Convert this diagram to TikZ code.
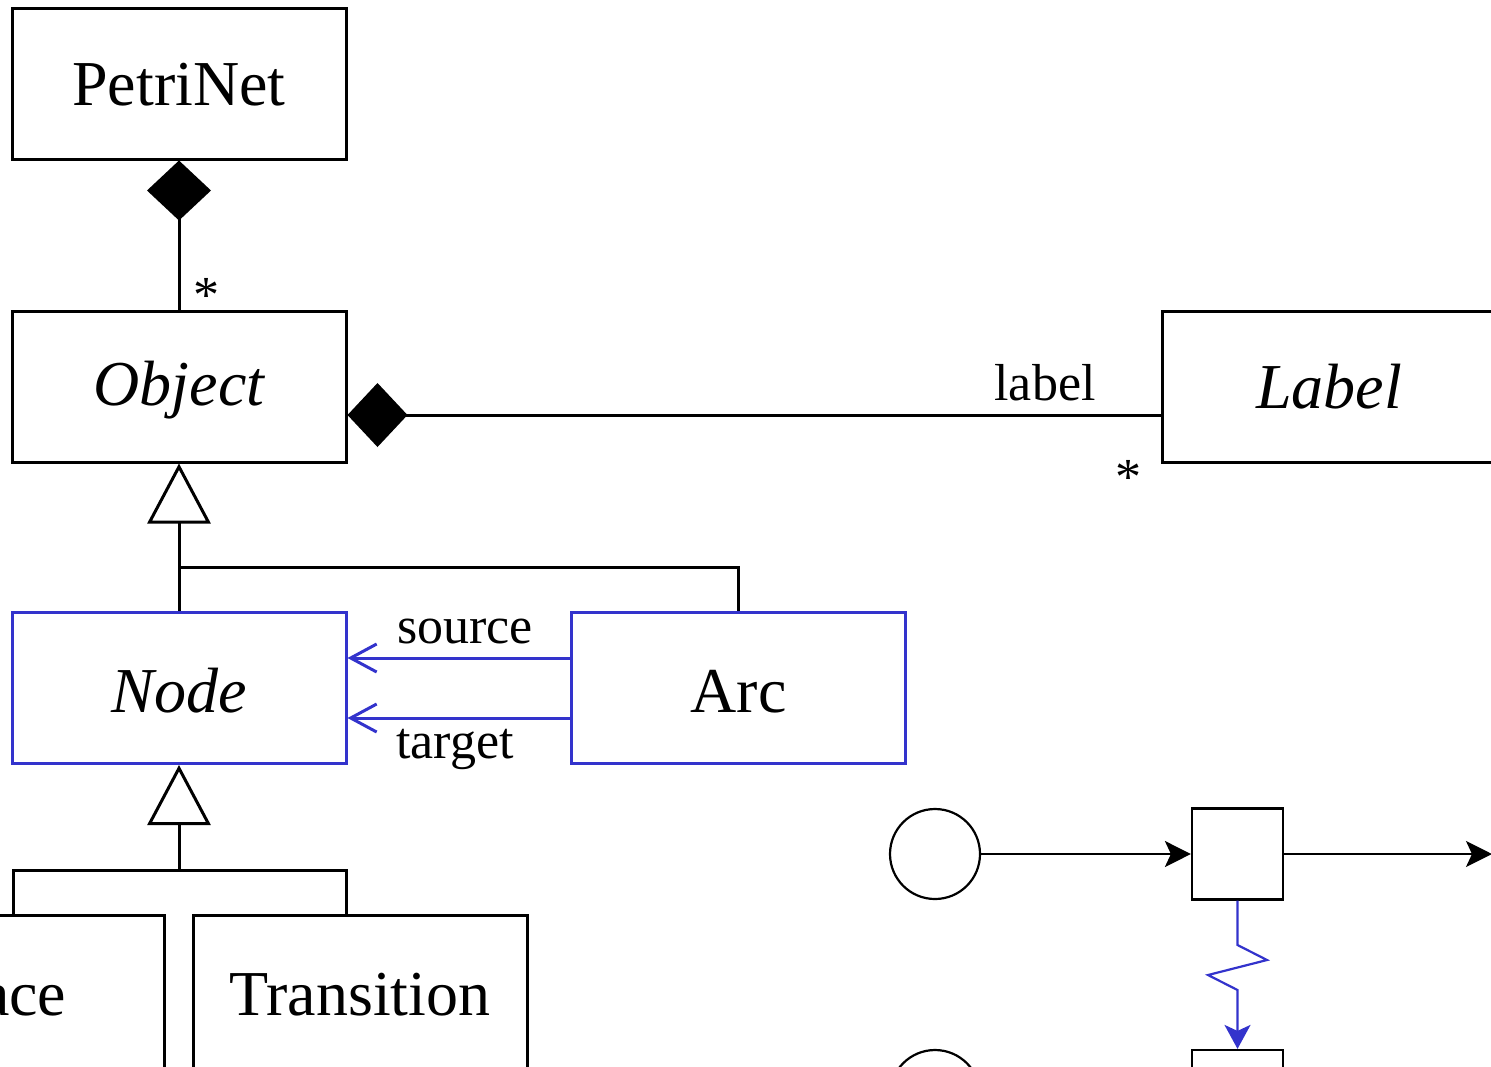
\documentclass[tikz,border=0pt]{standalone}
\usepackage{fontspec}
\setmainfont{Liberation Serif}
\usetikzlibrary{arrows.meta}
\definecolor{umlblue}{RGB}{51,51,204}
\begin{document}
\begin{tikzpicture}[x=0.5pt,y=-0.5pt,
  cls/.style={draw, line width=1.5pt, minimum width=167pt, minimum height=75.5pt, inner sep=0pt, text height=21.5pt, text depth=0pt, font=\fontsize{32}{38}\selectfont},
  bluecls/.style={cls, draw=umlblue},
  umlline/.style={line width=1.5pt},
  comp/.style={umlline, -{Diamond[length=30pt,width=32pt]}},
  gen/.style={umlline, -{Triangle[length=30pt,width=31.5pt,fill=white]}},
  assoc/.style={umlline, draw=umlblue, -{Straight Barb[length=13pt,width=14pt]}},
  lbl/.style={inner sep=0pt, font=\fontsize{26}{30}\selectfont},
  place/.style={draw, circle, line width=1.1pt, minimum size=45pt, inner sep=0pt},
  trans/.style={draw, rectangle, line width=1.1pt, minimum size=45.5pt, inner sep=0pt},
  parc/.style={line width=1.1pt, -{Stealth[length=13pt,width=13pt,inset=3pt]}},
  zarc/.style={line width=1.1pt, draw=umlblue, -{Stealth[length=12pt,width=13pt,inset=3pt]}}
]
\useasboundingbox (0,0) rectangle (1491,1066);

% classes
\node[cls] (petri) at (179,83.5) {PetriNet};
\node[cls, text height=18.5pt] (object) at (179,386.5) {\itshape Object};
\node[cls] (label) at (1329,386.5) {\itshape Label};
\node[bluecls, text height=24pt] (node) at (179,688) {\itshape Node};
\node[bluecls, text height=24pt] (arc) at (738.5,688) {Arc};
\node[cls, minimum height=80pt, text height=20pt] (place) at (-3,995) {Place};
\node[cls, minimum height=80pt, text height=20pt] (transition) at (360,995) {Transition};

% composition PetriNet - Object
\draw[comp] (object.north) -- (petri.south);
\node[lbl] (star1) at (206,295) {*};

% composition Object - Label
\draw[comp] (label.west |- 0,415) -- (object.east |- 0,415);
\node[lbl, anchor=base] (labeltxt) at (1045,400) {label};
\node[lbl] (star2) at (1128,477) {*};

% generalization Node, Arc -> Object
\coordinate (j1) at (object.south |- 0,567);
\draw[gen] (j1) -- (object.south);
\draw[umlline] (node.north) -- (j1) -| (arc.north);

% associations Arc -> Node
\draw[assoc] (arc.west |- 0,658) -- (node.east |- 0,658);
\draw[assoc] (arc.west |- 0,718) -- (node.east |- 0,718);
\node[lbl, anchor=base] (srctxt) at (465,643) {source};
\node[lbl, anchor=base] (tgttxt) at (455,758) {target};

% generalization Place, Transition -> Node
\coordinate (j2) at (node.south |- 0,870);
\draw[gen] (j2) -- (node.south);
\draw[umlline] (place.north -| 13,0) -- (13,870) -- (346,870) -- (transition.north -| 346,0);

% petri net example
\node[place] (p1) at (935,854) {};
\node[trans] (t1) at (1237.5,854) {};
\node[place] (p2) at (935,1095) {};
\node[trans] (t2) at (1237.5,1095.5) {};
\coordinate (out1) at (1492,854);
\draw[parc] (p1) -- (t1);
\draw[parc] (t1) -- (out1);
\draw[zarc] (t1.south) -- (1237.5,945) -- (1267,960) -- (1208,975) -- (1237.5,990) -- (t2.north);
\end{tikzpicture}
\end{document}
